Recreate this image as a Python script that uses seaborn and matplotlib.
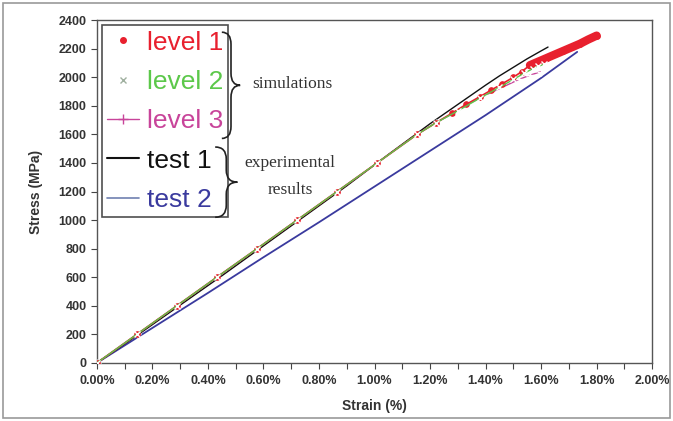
import seaborn as sns
import matplotlib.pyplot as plt
import pandas as pd
from matplotlib.path import Path
from matplotlib.patches import PathPatch, Rectangle
from matplotlib.lines import Line2D

# values (strain in %, stress in MPa)
level1_strain = [0, 0.144, 0.288, 0.432, 0.577, 0.721, 0.865, 1.009, 1.153, 1.22, 1.28, 1.33, 1.38,
                 1.42, 1.46, 1.50, 1.53, 1.56, 1.59, 1.62, 1.65, 1.68, 1.71, 1.74, 1.77, 1.80]
level1_stress = [0, 200, 400, 600, 800, 1000, 1200, 1400, 1600, 1680, 1750, 1810, 1865,
                 1910, 1955, 2000, 2040, 2085, 2110, 2135, 2160, 2185, 2210, 2235, 2265, 2292]

level2_strain = [0, 0.144, 0.288, 0.432, 0.577, 0.721, 0.865, 1.009, 1.153, 1.22, 1.30, 1.38,
                 1.45, 1.50, 1.54, 1.57, 1.59, 1.61]
level2_stress = [0, 200, 400, 600, 800, 1000, 1200, 1400, 1600, 1680, 1765, 1855,
                 1930, 1985, 2030, 2060, 2078, 2090]

level3_strain = [0, 0.144, 0.288, 0.432, 0.577, 0.721, 0.865, 1.009, 1.153, 1.22, 1.28, 1.34,
                 1.40, 1.46, 1.52, 1.56, 1.60]
level3_stress = [0, 200, 400, 600, 800, 1000, 1200, 1400, 1600, 1680, 1745, 1815,
                 1875, 1930, 1985, 2015, 2040]

test1_strain = [0, 0.15, 0.3, 0.45, 0.6, 0.75, 0.9, 1.05, 1.2, 1.3, 1.4, 1.45, 1.5, 1.55, 1.6, 1.625]
test1_stress = [0, 200, 405, 610, 820, 1030, 1240, 1460, 1675, 1810, 1945, 2010, 2070, 2130, 2185, 2212]

test2_strain = [0, 0.2, 0.4, 0.6, 0.8, 1.0, 1.2, 1.4, 1.6, 1.73]
test2_stress = [0, 245, 490, 740, 985, 1235, 1485, 1735, 1995, 2178]

x_ticks = [0, 0.2, 0.4, 0.6, 0.8, 1.0, 1.2, 1.4, 1.6, 1.8, 2.0]
x_minor = [0.1, 0.3, 0.5, 0.7, 0.9, 1.1, 1.3, 1.5, 1.7, 1.9]
y_ticks = list(range(0, 2401, 200))
legend_labels = ['level 1', 'level 2', 'level 3', 'test 1', 'test 2']

c_level1 = '#e8202e'
c_level2 = '#5cc84a'
c_level3 = '#c8449a'
c_test1 = '#111111'
c_test2 = '#3a3a9e'

sns.set_theme(style='white')
plt.rcParams['font.family'] = ['Liberation Sans', 'DejaVu Sans']

fig = plt.figure(figsize=(6.73, 4.21), dpi=100)
ax = fig.add_axes([0.144, 0.138, 0.825, 0.814])

lvl1 = pd.DataFrame({'strain': level1_strain, 'stress': level1_stress})
lvl2 = pd.DataFrame({'strain': level2_strain, 'stress': level2_stress})
lvl3 = pd.DataFrame({'strain': level3_strain, 'stress': level3_stress})
t1 = pd.DataFrame({'strain': test1_strain, 'stress': test1_stress})
t2 = pd.DataFrame({'strain': test2_strain, 'stress': test2_stress})

sns.lineplot(data=t2, x='strain', y='stress', color=c_test2, lw=1.3, ax=ax, zorder=2)
sns.lineplot(data=t1, x='strain', y='stress', color=c_test1, lw=1.0, ax=ax, zorder=3)
sns.lineplot(data=lvl3, x='strain', y='stress', color=c_level3, lw=1.0, marker='+', ms=6,
             mew=1.0, ax=ax, zorder=4)
sns.lineplot(data=lvl1, x='strain', y='stress', color=c_level1, lw=1.2, marker='o', ms=4,
             mec=c_level1, ax=ax, zorder=5)
# the end of level 1 shows as a thick red band
sns.lineplot(data=lvl1[lvl1.strain >= 1.56], x='strain', y='stress', color=c_level1, lw=6,
             solid_capstyle='round', ax=ax, zorder=5)
sns.lineplot(data=lvl2, x='strain', y='stress', color=c_level2, lw=1.0, marker='x', ms=4,
             mew=1.0, ax=ax, zorder=6)

ax.set_xlim(0, 2.0)
ax.set_ylim(0, 2400)
ax.set_xticks(x_ticks)
ax.set_xticklabels([f'{t:.2f}%' for t in x_ticks])
ax.set_xticks(x_minor, minor=True)
ax.set_yticks(y_ticks)
ax.tick_params(axis='both', which='both', direction='out', length=4, width=0.8, color='#444444',
               labelsize=9, labelcolor='#333333', bottom=True, left=True)
ax.tick_params(axis='x', pad=5)
for lab in ax.get_xticklabels() + ax.get_yticklabels():
    lab.set_fontweight('bold')
ax.set_xlabel('Strain (%)', fontsize=10, fontweight='bold', color='#333333', labelpad=8)
ax.set_ylabel('Stress (MPa)', fontsize=10, fontweight='bold', color='#333333', labelpad=11)
for sp in ax.spines.values():
    sp.set_color('#555555')
    sp.set_linewidth(1.0)

handles = [
    Line2D([], [], color=c_level1, ls='none', marker='o', ms=4),
    Line2D([], [], color='#a0b0a0', ls='none', marker='x', ms=4),
    Line2D([], [], color=c_level3, lw=1.0, marker='+', ms=7),
    Line2D([], [], color=c_test1, lw=1.5),
    Line2D([], [], color='#7080b0', lw=1.2),
]
leg = ax.legend(handles, legend_labels, loc='upper left', bbox_to_anchor=(0.009, 0.985),
                fontsize=19, labelspacing=0.58, handlelength=1.2, handletextpad=0.3,
                borderpad=0.2, borderaxespad=0, frameon=True, fancybox=False)
leg.get_frame().set_edgecolor('#222222')
leg.get_frame().set_linewidth(1.2)
for txt, col in zip(leg.get_texts(), [c_level1, c_level2, c_level3, c_test1, c_test2]):
    txt.set_color(col)


def brace(x, y_top, y_bot, width):
    # curly brace opening to the left, tip to the right, in axes fractions
    ym = (y_top + y_bot) / 2
    xm = x + width / 2
    r = 0.035
    codes = [Path.MOVETO, Path.CURVE3, Path.CURVE3, Path.LINETO,
             Path.CURVE3, Path.CURVE3, Path.LINETO,
             Path.MOVETO, Path.CURVE3, Path.CURVE3,
             Path.LINETO, Path.CURVE3, Path.CURVE3]
    verts = [
        (x, y_top), (xm, y_top), (xm, y_top - r), (xm, ym + r),
        (xm, ym), (x + width, ym), (x + width, ym),
        (x + width, ym), (xm, ym), (xm, ym - r),
        (xm, y_bot + r), (xm, y_bot), (x, y_bot),
    ]
    ax.add_patch(PathPatch(Path(verts, codes), transform=ax.transAxes, fill=False,
                           lw=1.2, edgecolor='#222222', clip_on=False, zorder=7))


brace(0.225, 0.965, 0.655, 0.033)
brace(0.213, 0.63, 0.425, 0.04)

serif = ['Liberation Serif', 'DejaVu Serif']
ax.text(0.352, 0.813, 'simulations', transform=ax.transAxes, ha='center', va='center',
        fontsize=12.5, family=serif, color='#333333')
ax.text(0.348, 0.583, 'experimental', transform=ax.transAxes, ha='center', va='center',
        fontsize=12.5, family=serif, color='#333333')
ax.text(0.348, 0.505, 'results', transform=ax.transAxes, ha='center', va='center',
        fontsize=12.5, family=serif, color='#333333')

fig.patches.append(Rectangle((0.005, 0.006), 0.99, 0.988, transform=fig.transFigure,
                             fill=False, edgecolor='#999999', lw=1.2))

fig.savefig('out.png', dpi=100)
